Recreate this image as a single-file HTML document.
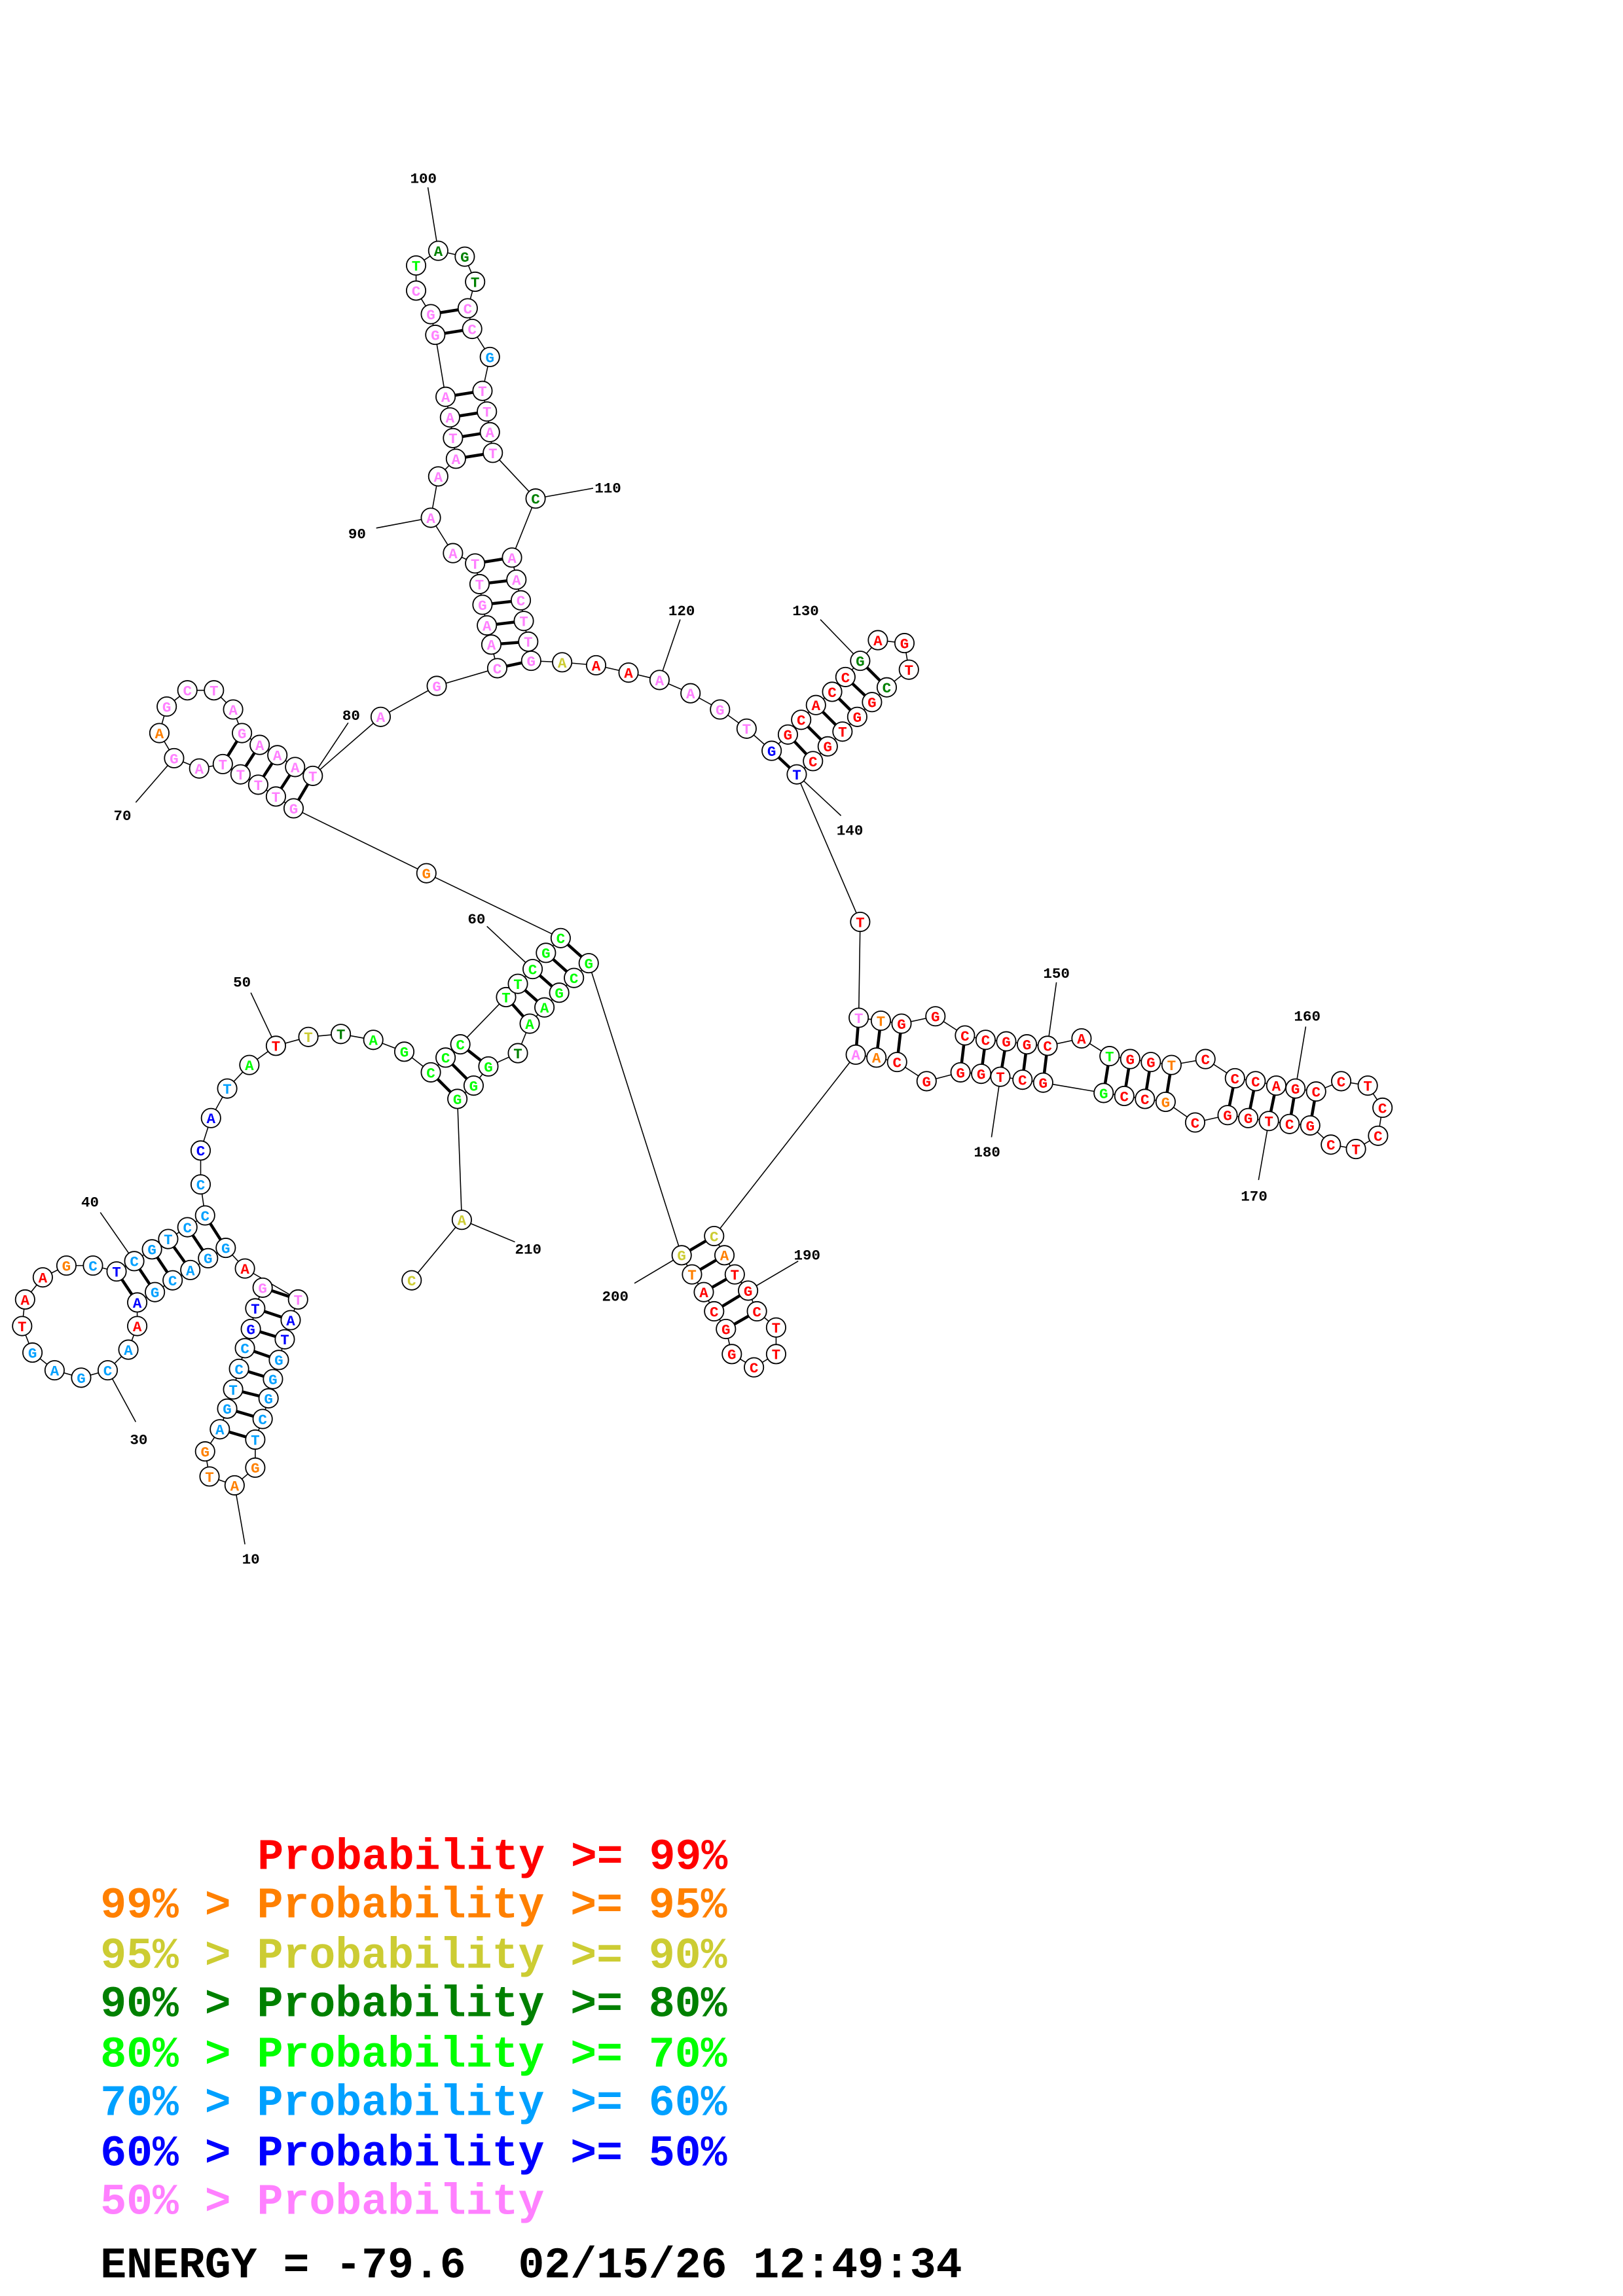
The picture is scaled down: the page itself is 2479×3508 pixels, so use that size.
<!DOCTYPE html>
<html><head><meta charset="utf-8"><style>
html,body{margin:0;padding:0;background:#fff}
svg{display:block}
circle{fill:#fff;stroke:#000;stroke-width:0.8}
.n text,text.n{font-family:"Liberation Mono",monospace;font-weight:bold;font-size:10px;text-anchor:middle}
.r{fill:#ff0000}.o{fill:#ff8000}.y{fill:#cccc33}.d{fill:#008000}.g{fill:#00ff00}.l{fill:#00a0ff}.b{fill:#0000ff}.p{fill:#ff80ff}
.lab{font-family:"Liberation Mono",monospace;font-weight:bold;font-size:10px;fill:#000}
.leg{font-family:"Liberation Mono",monospace;font-weight:bold;font-size:29.5px}
.leg text{white-space:pre}
</style></head><body>
<svg width="2479" height="3508" viewBox="0 0 1100 1556.6" xmlns="http://www.w3.org/2000/svg">
<rect width="1100" height="1556.6" fill="#fff"/>
<polyline fill="none" stroke="#000" stroke-width="0.7" points="178,873 173,887 170,901 166,914 162,928 158,942 154,955 149,969 139,984 142,1001 159,1007 173,995 173,976 178,962 182,948 185,935 189,922 193,908 197,895 202,881 166,860 153,846 141,853 129,861 117,868 105,876 93,883 93,899 87,915 73,929 55,934 37,929 22,917 15,899 17,881 29,866 45,858 63,858 79,862 91,855 103,847 114,840 127,832 139,824 136,803 136,780 143,758 154,738 169,722 187,709 209,703 231,701 253,705 274,713 292,727 302,717 312,708 343,676 351,667 361,657 370,646 380,636 289,592 199,548 187,540 175,532 163,525 151,518 135,521 118,514 108,497 113,479 127,468 145,468 158,481 164,497 176,505 188,512 200,520 212,526 258,486 296,465 337,453 333,437 330,424 327,410 325,396 322,382 307,375 292,351 297,323 309,311 307,297 305,283 302,269 295,227 292,213 282,197 282,180 297,170 315,174 322,191 317,209 320,223 332,242 327,265 330,279 332,293 334,307 363,338 347,378 350,393 353,407 355,421 358,435 360,448 381,449 404,451 426,456 447,461 468,470 488,481 506,494 523,509 534,498 543,488 553,478 564,469 573,459 583,448 595,434 613,436 616,454 601,466 591,476 581,486 571,496 561,506 551,516 540,525 583,625 582,690 597,692 611,694 634,689 654,702 668,705 682,706 696,708 710,709 733,704 752,716 766,718 780,720 794,722 817,718 837,731 851,733 865,736 878,738 892,740 909,733 927,736 937,751 934,770 919,779 902,776 888,763 874,762 860,760 846,758 832,756 810,761 790,747 776,745 762,743 748,741 707,734 693,732 678,730 665,728 651,727 628,733 608,720 594,717 580,715 484,838 491,851 498,864 507,875 513,889 526,900 526,918 511,927 496,918 492,901 484,889 477,876 469,864 462,851 399,653 389,663 379,673 369,683 359,694 351,714 331,723 321,736 310,745 313,827 279,868"/>
<g stroke="#000" stroke-width="2">
<line x1="178" y1="873" x2="202" y2="881"/><line x1="173" y1="887" x2="197" y2="895"/><line x1="170" y1="901" x2="193" y2="908"/><line x1="166" y1="914" x2="189" y2="922"/><line x1="162" y1="928" x2="185" y2="935"/><line x1="158" y1="942" x2="182" y2="948"/><line x1="154" y1="955" x2="178" y2="962"/><line x1="149" y1="969" x2="173" y2="976"/>
<line x1="79" y1="862" x2="93" y2="883"/><line x1="91" y1="855" x2="105" y2="876"/><line x1="103" y1="847" x2="117" y2="868"/><line x1="114" y1="840" x2="129" y2="861"/><line x1="127" y1="832" x2="141" y2="853"/><line x1="139" y1="824" x2="153" y2="846"/>
<line x1="292" y1="727" x2="310" y2="745"/><line x1="302" y1="717" x2="321" y2="736"/><line x1="312" y1="708" x2="331" y2="723"/><line x1="343" y1="676" x2="359" y2="694"/><line x1="351" y1="667" x2="369" y2="683"/><line x1="361" y1="657" x2="379" y2="673"/><line x1="370" y1="646" x2="389" y2="663"/><line x1="380" y1="636" x2="399" y2="653"/>
<line x1="199" y1="548" x2="212" y2="526"/><line x1="187" y1="540" x2="200" y2="520"/><line x1="175" y1="532" x2="188" y2="512"/><line x1="163" y1="525" x2="176" y2="505"/><line x1="151" y1="518" x2="164" y2="497"/>
<line x1="337" y1="453" x2="360" y2="448"/><line x1="333" y1="437" x2="358" y2="435"/><line x1="330" y1="424" x2="355" y2="421"/><line x1="327" y1="410" x2="353" y2="407"/><line x1="325" y1="396" x2="350" y2="393"/><line x1="322" y1="382" x2="347" y2="378"/>
<line x1="309" y1="311" x2="334" y2="307"/><line x1="307" y1="297" x2="332" y2="293"/><line x1="305" y1="283" x2="330" y2="279"/><line x1="302" y1="269" x2="327" y2="265"/><line x1="295" y1="227" x2="320" y2="223"/><line x1="292" y1="213" x2="317" y2="209"/>
<line x1="523" y1="509" x2="540" y2="525"/><line x1="534" y1="498" x2="551" y2="516"/><line x1="543" y1="488" x2="561" y2="506"/><line x1="553" y1="478" x2="571" y2="496"/><line x1="564" y1="469" x2="581" y2="486"/><line x1="573" y1="459" x2="591" y2="476"/><line x1="583" y1="448" x2="601" y2="466"/>
<line x1="582" y1="690" x2="580" y2="715"/><line x1="597" y1="692" x2="594" y2="717"/><line x1="611" y1="694" x2="608" y2="720"/><line x1="654" y1="702" x2="651" y2="727"/><line x1="668" y1="705" x2="665" y2="728"/><line x1="682" y1="706" x2="678" y2="730"/><line x1="696" y1="708" x2="693" y2="732"/><line x1="710" y1="709" x2="707" y2="734"/>
<line x1="752" y1="716" x2="748" y2="741"/><line x1="766" y1="718" x2="762" y2="743"/><line x1="780" y1="720" x2="776" y2="745"/><line x1="794" y1="722" x2="790" y2="747"/>
<line x1="837" y1="731" x2="832" y2="756"/><line x1="851" y1="733" x2="846" y2="758"/><line x1="865" y1="736" x2="860" y2="760"/><line x1="878" y1="738" x2="874" y2="762"/><line x1="892" y1="740" x2="888" y2="763"/>
<line x1="484" y1="838" x2="462" y2="851"/><line x1="491" y1="851" x2="469" y2="864"/><line x1="498" y1="864" x2="477" y2="876"/><line x1="507" y1="875" x2="484" y2="889"/><line x1="513" y1="889" x2="492" y2="901"/>
</g>
<g stroke="#000" stroke-width="0.7">
<line x1="159" y1="1007" x2="166" y2="1047"/><line x1="73" y1="929" x2="92" y2="964"/><line x1="91" y1="855" x2="68" y2="822"/><line x1="187" y1="709" x2="170" y2="673"/><line x1="361" y1="657" x2="330" y2="628"/><line x1="118" y1="514" x2="92" y2="544"/><line x1="212" y1="526" x2="236" y2="490"/><line x1="292" y1="351" x2="255" y2="358"/><line x1="297" y1="170" x2="290" y2="127"/><line x1="363" y1="338" x2="402" y2="331"/><line x1="447" y1="461" x2="461" y2="420"/><line x1="583" y1="448" x2="556" y2="420"/><line x1="540" y1="525" x2="570" y2="553"/><line x1="710" y1="709" x2="716" y2="666"/><line x1="878" y1="738" x2="885" y2="696"/><line x1="860" y1="760" x2="853" y2="800"/><line x1="678" y1="730" x2="672" y2="771"/><line x1="507" y1="875" x2="541" y2="855"/><line x1="462" y1="851" x2="430" y2="870"/><line x1="313" y1="827" x2="349" y2="842"/>
</g>
<g class="lab">
<text x="164" y="1060">10</text><text x="88" y="979">30</text><text x="55" y="818">40</text><text x="158" y="669">50</text><text x="317" y="626">60</text><text x="77" y="556">70</text><text x="232" y="488">80</text><text x="236" y="365">90</text><text x="278" y="124">100</text><text x="403" y="334">110</text><text x="453" y="417">120</text><text x="537" y="417">130</text><text x="567" y="566">140</text><text x="707" y="663">150</text><text x="877" y="692">160</text><text x="841" y="814">170</text><text x="660" y="784">180</text><text x="538" y="854">190</text><text x="408" y="882">200</text><text x="349" y="850">210</text>
</g>
<g class="n">
<circle cx="178" cy="873" r="6.5"/><text x="178" y="876.5" class="p">G</text>
<circle cx="173" cy="887" r="6.5"/><text x="173" y="890.5" class="b">T</text>
<circle cx="170" cy="901" r="6.5"/><text x="170" y="904.5" class="b">G</text>
<circle cx="166" cy="914" r="6.5"/><text x="166" y="917.5" class="l">C</text>
<circle cx="162" cy="928" r="6.5"/><text x="162" y="931.5" class="l">C</text>
<circle cx="158" cy="942" r="6.5"/><text x="158" y="945.5" class="l">T</text>
<circle cx="154" cy="955" r="6.5"/><text x="154" y="958.5" class="l">G</text>
<circle cx="149" cy="969" r="6.5"/><text x="149" y="972.5" class="l">A</text>
<circle cx="139" cy="984" r="6.5"/><text x="139" y="987.5" class="o">G</text>
<circle cx="142" cy="1001" r="6.5"/><text x="142" y="1004.5" class="o">T</text>
<circle cx="159" cy="1007" r="6.5"/><text x="159" y="1010.5" class="o">A</text>
<circle cx="173" cy="995" r="6.5"/><text x="173" y="998.5" class="o">G</text>
<circle cx="173" cy="976" r="6.5"/><text x="173" y="979.5" class="l">T</text>
<circle cx="178" cy="962" r="6.5"/><text x="178" y="965.5" class="l">C</text>
<circle cx="182" cy="948" r="6.5"/><text x="182" y="951.5" class="l">G</text>
<circle cx="185" cy="935" r="6.5"/><text x="185" y="938.5" class="l">G</text>
<circle cx="189" cy="922" r="6.5"/><text x="189" y="925.5" class="l">G</text>
<circle cx="193" cy="908" r="6.5"/><text x="193" y="911.5" class="b">T</text>
<circle cx="197" cy="895" r="6.5"/><text x="197" y="898.5" class="b">A</text>
<circle cx="202" cy="881" r="6.5"/><text x="202" y="884.5" class="p">T</text>
<circle cx="166" cy="860" r="6.5"/><text x="166" y="863.5" class="r">A</text>
<circle cx="153" cy="846" r="6.5"/><text x="153" y="849.5" class="l">G</text>
<circle cx="141" cy="853" r="6.5"/><text x="141" y="856.5" class="l">G</text>
<circle cx="129" cy="861" r="6.5"/><text x="129" y="864.5" class="l">A</text>
<circle cx="117" cy="868" r="6.5"/><text x="117" y="871.5" class="l">C</text>
<circle cx="105" cy="876" r="6.5"/><text x="105" y="879.5" class="l">G</text>
<circle cx="93" cy="883" r="6.5"/><text x="93" y="886.5" class="b">A</text>
<circle cx="93" cy="899" r="6.5"/><text x="93" y="902.5" class="r">A</text>
<circle cx="87" cy="915" r="6.5"/><text x="87" y="918.5" class="l">A</text>
<circle cx="73" cy="929" r="6.5"/><text x="73" y="932.5" class="l">C</text>
<circle cx="55" cy="934" r="6.5"/><text x="55" y="937.5" class="l">G</text>
<circle cx="37" cy="929" r="6.5"/><text x="37" y="932.5" class="l">A</text>
<circle cx="22" cy="917" r="6.5"/><text x="22" y="920.5" class="l">G</text>
<circle cx="15" cy="899" r="6.5"/><text x="15" y="902.5" class="r">T</text>
<circle cx="17" cy="881" r="6.5"/><text x="17" y="884.5" class="r">A</text>
<circle cx="29" cy="866" r="6.5"/><text x="29" y="869.5" class="r">A</text>
<circle cx="45" cy="858" r="6.5"/><text x="45" y="861.5" class="o">G</text>
<circle cx="63" cy="858" r="6.5"/><text x="63" y="861.5" class="l">C</text>
<circle cx="79" cy="862" r="6.5"/><text x="79" y="865.5" class="b">T</text>
<circle cx="91" cy="855" r="6.5"/><text x="91" y="858.5" class="l">C</text>
<circle cx="103" cy="847" r="6.5"/><text x="103" y="850.5" class="l">G</text>
<circle cx="114" cy="840" r="6.5"/><text x="114" y="843.5" class="l">T</text>
<circle cx="127" cy="832" r="6.5"/><text x="127" y="835.5" class="l">C</text>
<circle cx="139" cy="824" r="6.5"/><text x="139" y="827.5" class="l">C</text>
<circle cx="136" cy="803" r="6.5"/><text x="136" y="806.5" class="l">C</text>
<circle cx="136" cy="780" r="6.5"/><text x="136" y="783.5" class="b">C</text>
<circle cx="143" cy="758" r="6.5"/><text x="143" y="761.5" class="b">A</text>
<circle cx="154" cy="738" r="6.5"/><text x="154" y="741.5" class="l">T</text>
<circle cx="169" cy="722" r="6.5"/><text x="169" y="725.5" class="g">A</text>
<circle cx="187" cy="709" r="6.5"/><text x="187" y="712.5" class="r">T</text>
<circle cx="209" cy="703" r="6.5"/><text x="209" y="706.5" class="y">T</text>
<circle cx="231" cy="701" r="6.5"/><text x="231" y="704.5" class="d">T</text>
<circle cx="253" cy="705" r="6.5"/><text x="253" y="708.5" class="g">A</text>
<circle cx="274" cy="713" r="6.5"/><text x="274" y="716.5" class="g">G</text>
<circle cx="292" cy="727" r="6.5"/><text x="292" y="730.5" class="g">C</text>
<circle cx="302" cy="717" r="6.5"/><text x="302" y="720.5" class="g">C</text>
<circle cx="312" cy="708" r="6.5"/><text x="312" y="711.5" class="g">C</text>
<circle cx="343" cy="676" r="6.5"/><text x="343" y="679.5" class="g">T</text>
<circle cx="351" cy="667" r="6.5"/><text x="351" y="670.5" class="g">T</text>
<circle cx="361" cy="657" r="6.5"/><text x="361" y="660.5" class="g">C</text>
<circle cx="370" cy="646" r="6.5"/><text x="370" y="649.5" class="g">G</text>
<circle cx="380" cy="636" r="6.5"/><text x="380" y="639.5" class="g">C</text>
<circle cx="289" cy="592" r="6.5"/><text x="289" y="595.5" class="o">G</text>
<circle cx="199" cy="548" r="6.5"/><text x="199" y="551.5" class="p">G</text>
<circle cx="187" cy="540" r="6.5"/><text x="187" y="543.5" class="p">T</text>
<circle cx="175" cy="532" r="6.5"/><text x="175" y="535.5" class="p">T</text>
<circle cx="163" cy="525" r="6.5"/><text x="163" y="528.5" class="p">T</text>
<circle cx="151" cy="518" r="6.5"/><text x="151" y="521.5" class="p">T</text>
<circle cx="135" cy="521" r="6.5"/><text x="135" y="524.5" class="p">A</text>
<circle cx="118" cy="514" r="6.5"/><text x="118" y="517.5" class="p">G</text>
<circle cx="108" cy="497" r="6.5"/><text x="108" y="500.5" class="o">A</text>
<circle cx="113" cy="479" r="6.5"/><text x="113" y="482.5" class="p">G</text>
<circle cx="127" cy="468" r="6.5"/><text x="127" y="471.5" class="p">C</text>
<circle cx="145" cy="468" r="6.5"/><text x="145" y="471.5" class="p">T</text>
<circle cx="158" cy="481" r="6.5"/><text x="158" y="484.5" class="p">A</text>
<circle cx="164" cy="497" r="6.5"/><text x="164" y="500.5" class="p">G</text>
<circle cx="176" cy="505" r="6.5"/><text x="176" y="508.5" class="p">A</text>
<circle cx="188" cy="512" r="6.5"/><text x="188" y="515.5" class="p">A</text>
<circle cx="200" cy="520" r="6.5"/><text x="200" y="523.5" class="p">A</text>
<circle cx="212" cy="526" r="6.5"/><text x="212" y="529.5" class="p">T</text>
<circle cx="258" cy="486" r="6.5"/><text x="258" y="489.5" class="p">A</text>
<circle cx="296" cy="465" r="6.5"/><text x="296" y="468.5" class="p">G</text>
<circle cx="337" cy="453" r="6.5"/><text x="337" y="456.5" class="p">C</text>
<circle cx="333" cy="437" r="6.5"/><text x="333" y="440.5" class="p">A</text>
<circle cx="330" cy="424" r="6.5"/><text x="330" y="427.5" class="p">A</text>
<circle cx="327" cy="410" r="6.5"/><text x="327" y="413.5" class="p">G</text>
<circle cx="325" cy="396" r="6.5"/><text x="325" y="399.5" class="p">T</text>
<circle cx="322" cy="382" r="6.5"/><text x="322" y="385.5" class="p">T</text>
<circle cx="307" cy="375" r="6.5"/><text x="307" y="378.5" class="p">A</text>
<circle cx="292" cy="351" r="6.5"/><text x="292" y="354.5" class="p">A</text>
<circle cx="297" cy="323" r="6.5"/><text x="297" y="326.5" class="p">A</text>
<circle cx="309" cy="311" r="6.5"/><text x="309" y="314.5" class="p">A</text>
<circle cx="307" cy="297" r="6.5"/><text x="307" y="300.5" class="p">T</text>
<circle cx="305" cy="283" r="6.5"/><text x="305" y="286.5" class="p">A</text>
<circle cx="302" cy="269" r="6.5"/><text x="302" y="272.5" class="p">A</text>
<circle cx="295" cy="227" r="6.5"/><text x="295" y="230.5" class="p">G</text>
<circle cx="292" cy="213" r="6.5"/><text x="292" y="216.5" class="p">G</text>
<circle cx="282" cy="197" r="6.5"/><text x="282" y="200.5" class="p">C</text>
<circle cx="282" cy="180" r="6.5"/><text x="282" y="183.5" class="g">T</text>
<circle cx="297" cy="170" r="6.5"/><text x="297" y="173.5" class="d">A</text>
<circle cx="315" cy="174" r="6.5"/><text x="315" y="177.5" class="d">G</text>
<circle cx="322" cy="191" r="6.5"/><text x="322" y="194.5" class="d">T</text>
<circle cx="317" cy="209" r="6.5"/><text x="317" y="212.5" class="p">C</text>
<circle cx="320" cy="223" r="6.5"/><text x="320" y="226.5" class="p">C</text>
<circle cx="332" cy="242" r="6.5"/><text x="332" y="245.5" class="l">G</text>
<circle cx="327" cy="265" r="6.5"/><text x="327" y="268.5" class="p">T</text>
<circle cx="330" cy="279" r="6.5"/><text x="330" y="282.5" class="p">T</text>
<circle cx="332" cy="293" r="6.5"/><text x="332" y="296.5" class="p">A</text>
<circle cx="334" cy="307" r="6.5"/><text x="334" y="310.5" class="p">T</text>
<circle cx="363" cy="338" r="6.5"/><text x="363" y="341.5" class="d">C</text>
<circle cx="347" cy="378" r="6.5"/><text x="347" y="381.5" class="p">A</text>
<circle cx="350" cy="393" r="6.5"/><text x="350" y="396.5" class="p">A</text>
<circle cx="353" cy="407" r="6.5"/><text x="353" y="410.5" class="p">C</text>
<circle cx="355" cy="421" r="6.5"/><text x="355" y="424.5" class="p">T</text>
<circle cx="358" cy="435" r="6.5"/><text x="358" y="438.5" class="p">T</text>
<circle cx="360" cy="448" r="6.5"/><text x="360" y="451.5" class="p">G</text>
<circle cx="381" cy="449" r="6.5"/><text x="381" y="452.5" class="y">A</text>
<circle cx="404" cy="451" r="6.5"/><text x="404" y="454.5" class="r">A</text>
<circle cx="426" cy="456" r="6.5"/><text x="426" y="459.5" class="r">A</text>
<circle cx="447" cy="461" r="6.5"/><text x="447" y="464.5" class="p">A</text>
<circle cx="468" cy="470" r="6.5"/><text x="468" y="473.5" class="p">A</text>
<circle cx="488" cy="481" r="6.5"/><text x="488" y="484.5" class="p">G</text>
<circle cx="506" cy="494" r="6.5"/><text x="506" y="497.5" class="p">T</text>
<circle cx="523" cy="509" r="6.5"/><text x="523" y="512.5" class="b">G</text>
<circle cx="534" cy="498" r="6.5"/><text x="534" y="501.5" class="r">G</text>
<circle cx="543" cy="488" r="6.5"/><text x="543" y="491.5" class="r">C</text>
<circle cx="553" cy="478" r="6.5"/><text x="553" y="481.5" class="r">A</text>
<circle cx="564" cy="469" r="6.5"/><text x="564" y="472.5" class="r">C</text>
<circle cx="573" cy="459" r="6.5"/><text x="573" y="462.5" class="r">C</text>
<circle cx="583" cy="448" r="6.5"/><text x="583" y="451.5" class="d">G</text>
<circle cx="595" cy="434" r="6.5"/><text x="595" y="437.5" class="r">A</text>
<circle cx="613" cy="436" r="6.5"/><text x="613" y="439.5" class="r">G</text>
<circle cx="616" cy="454" r="6.5"/><text x="616" y="457.5" class="r">T</text>
<circle cx="601" cy="466" r="6.5"/><text x="601" y="469.5" class="d">C</text>
<circle cx="591" cy="476" r="6.5"/><text x="591" y="479.5" class="r">G</text>
<circle cx="581" cy="486" r="6.5"/><text x="581" y="489.5" class="r">G</text>
<circle cx="571" cy="496" r="6.5"/><text x="571" y="499.5" class="r">T</text>
<circle cx="561" cy="506" r="6.5"/><text x="561" y="509.5" class="r">G</text>
<circle cx="551" cy="516" r="6.5"/><text x="551" y="519.5" class="r">C</text>
<circle cx="540" cy="525" r="6.5"/><text x="540" y="528.5" class="b">T</text>
<circle cx="583" cy="625" r="6.5"/><text x="583" y="628.5" class="r">T</text>
<circle cx="582" cy="690" r="6.5"/><text x="582" y="693.5" class="p">T</text>
<circle cx="597" cy="692" r="6.5"/><text x="597" y="695.5" class="o">T</text>
<circle cx="611" cy="694" r="6.5"/><text x="611" y="697.5" class="r">G</text>
<circle cx="634" cy="689" r="6.5"/><text x="634" y="692.5" class="r">G</text>
<circle cx="654" cy="702" r="6.5"/><text x="654" y="705.5" class="r">C</text>
<circle cx="668" cy="705" r="6.5"/><text x="668" y="708.5" class="r">C</text>
<circle cx="682" cy="706" r="6.5"/><text x="682" y="709.5" class="r">G</text>
<circle cx="696" cy="708" r="6.5"/><text x="696" y="711.5" class="r">G</text>
<circle cx="710" cy="709" r="6.5"/><text x="710" y="712.5" class="r">C</text>
<circle cx="733" cy="704" r="6.5"/><text x="733" y="707.5" class="r">A</text>
<circle cx="752" cy="716" r="6.5"/><text x="752" y="719.5" class="g">T</text>
<circle cx="766" cy="718" r="6.5"/><text x="766" y="721.5" class="r">G</text>
<circle cx="780" cy="720" r="6.5"/><text x="780" y="723.5" class="r">G</text>
<circle cx="794" cy="722" r="6.5"/><text x="794" y="725.5" class="o">T</text>
<circle cx="817" cy="718" r="6.5"/><text x="817" y="721.5" class="r">C</text>
<circle cx="837" cy="731" r="6.5"/><text x="837" y="734.5" class="r">C</text>
<circle cx="851" cy="733" r="6.5"/><text x="851" y="736.5" class="r">C</text>
<circle cx="865" cy="736" r="6.5"/><text x="865" y="739.5" class="r">A</text>
<circle cx="878" cy="738" r="6.5"/><text x="878" y="741.5" class="r">G</text>
<circle cx="892" cy="740" r="6.5"/><text x="892" y="743.5" class="r">C</text>
<circle cx="909" cy="733" r="6.5"/><text x="909" y="736.5" class="r">C</text>
<circle cx="927" cy="736" r="6.5"/><text x="927" y="739.5" class="r">T</text>
<circle cx="937" cy="751" r="6.5"/><text x="937" y="754.5" class="r">C</text>
<circle cx="934" cy="770" r="6.5"/><text x="934" y="773.5" class="r">C</text>
<circle cx="919" cy="779" r="6.5"/><text x="919" y="782.5" class="r">T</text>
<circle cx="902" cy="776" r="6.5"/><text x="902" y="779.5" class="r">C</text>
<circle cx="888" cy="763" r="6.5"/><text x="888" y="766.5" class="r">G</text>
<circle cx="874" cy="762" r="6.5"/><text x="874" y="765.5" class="r">C</text>
<circle cx="860" cy="760" r="6.5"/><text x="860" y="763.5" class="r">T</text>
<circle cx="846" cy="758" r="6.5"/><text x="846" y="761.5" class="r">G</text>
<circle cx="832" cy="756" r="6.5"/><text x="832" y="759.5" class="r">G</text>
<circle cx="810" cy="761" r="6.5"/><text x="810" y="764.5" class="r">C</text>
<circle cx="790" cy="747" r="6.5"/><text x="790" y="750.5" class="o">G</text>
<circle cx="776" cy="745" r="6.5"/><text x="776" y="748.5" class="r">C</text>
<circle cx="762" cy="743" r="6.5"/><text x="762" y="746.5" class="r">C</text>
<circle cx="748" cy="741" r="6.5"/><text x="748" y="744.5" class="g">G</text>
<circle cx="707" cy="734" r="6.5"/><text x="707" y="737.5" class="r">G</text>
<circle cx="693" cy="732" r="6.5"/><text x="693" y="735.5" class="r">C</text>
<circle cx="678" cy="730" r="6.5"/><text x="678" y="733.5" class="r">T</text>
<circle cx="665" cy="728" r="6.5"/><text x="665" y="731.5" class="r">G</text>
<circle cx="651" cy="727" r="6.5"/><text x="651" y="730.5" class="r">G</text>
<circle cx="628" cy="733" r="6.5"/><text x="628" y="736.5" class="r">G</text>
<circle cx="608" cy="720" r="6.5"/><text x="608" y="723.5" class="r">C</text>
<circle cx="594" cy="717" r="6.5"/><text x="594" y="720.5" class="o">A</text>
<circle cx="580" cy="715" r="6.5"/><text x="580" y="718.5" class="p">A</text>
<circle cx="484" cy="838" r="6.5"/><text x="484" y="841.5" class="y">C</text>
<circle cx="491" cy="851" r="6.5"/><text x="491" y="854.5" class="o">A</text>
<circle cx="498" cy="864" r="6.5"/><text x="498" y="867.5" class="r">T</text>
<circle cx="507" cy="875" r="6.5"/><text x="507" y="878.5" class="r">G</text>
<circle cx="513" cy="889" r="6.5"/><text x="513" y="892.5" class="r">C</text>
<circle cx="526" cy="900" r="6.5"/><text x="526" y="903.5" class="r">T</text>
<circle cx="526" cy="918" r="6.5"/><text x="526" y="921.5" class="r">T</text>
<circle cx="511" cy="927" r="6.5"/><text x="511" y="930.5" class="r">C</text>
<circle cx="496" cy="918" r="6.5"/><text x="496" y="921.5" class="r">G</text>
<circle cx="492" cy="901" r="6.5"/><text x="492" y="904.5" class="r">G</text>
<circle cx="484" cy="889" r="6.5"/><text x="484" y="892.5" class="r">C</text>
<circle cx="477" cy="876" r="6.5"/><text x="477" y="879.5" class="r">A</text>
<circle cx="469" cy="864" r="6.5"/><text x="469" y="867.5" class="o">T</text>
<circle cx="462" cy="851" r="6.5"/><text x="462" y="854.5" class="y">G</text>
<circle cx="399" cy="653" r="6.5"/><text x="399" y="656.5" class="g">G</text>
<circle cx="389" cy="663" r="6.5"/><text x="389" y="666.5" class="g">C</text>
<circle cx="379" cy="673" r="6.5"/><text x="379" y="676.5" class="g">G</text>
<circle cx="369" cy="683" r="6.5"/><text x="369" y="686.5" class="g">A</text>
<circle cx="359" cy="694" r="6.5"/><text x="359" y="697.5" class="g">A</text>
<circle cx="351" cy="714" r="6.5"/><text x="351" y="717.5" class="d">T</text>
<circle cx="331" cy="723" r="6.5"/><text x="331" y="726.5" class="g">G</text>
<circle cx="321" cy="736" r="6.5"/><text x="321" y="739.5" class="g">G</text>
<circle cx="310" cy="745" r="6.5"/><text x="310" y="748.5" class="g">G</text>
<circle cx="313" cy="827" r="6.5"/><text x="313" y="830.5" class="y">A</text>
<circle cx="279" cy="868" r="6.5"/><text x="279" y="871.5" class="y">C</text>
</g>
<g class="leg">
<text x="174.5" y="1267" class="r">Probability &gt;= 99%</text>
<text x="68" y="1300" class="o">99% &gt; Probability &gt;= 95%</text>
<text x="68" y="1334" class="y">95% &gt; Probability &gt;= 90%</text>
<text x="68" y="1367" class="d">90% &gt; Probability &gt;= 80%</text>
<text x="68" y="1401" class="g">80% &gt; Probability &gt;= 70%</text>
<text x="68" y="1434" class="l">70% &gt; Probability &gt;= 60%</text>
<text x="68" y="1468" class="b">60% &gt; Probability &gt;= 50%</text>
<text x="68" y="1501" class="p">50% &gt; Probability</text>
<text x="68" y="1544" fill="#000">ENERGY = -79.6  02/15/26 12:49:34</text>
</g>
</svg>
</body></html>
